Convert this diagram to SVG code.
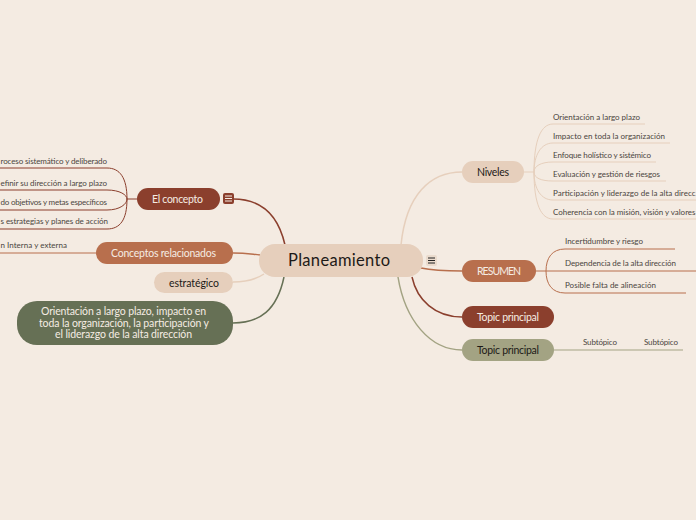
<svg xmlns="http://www.w3.org/2000/svg" width="696" height="520" viewBox="0 0 696 520">
<style>
text{font-family:"Lato","Noto Sans",sans-serif;text-anchor:start}
.b{font-size:10.500px}
.s{font-size:8px;fill:#4a4540}
.l{fill:#f5ece3}
.d{fill:#1d1a17}
.c{fill:none;stroke-width:1.5}
.t{fill:none;stroke-width:1}
.red{stroke:#8b3f2d}.or{stroke:#b86f4d}.sa{stroke:#e6cfbc}.gr{stroke:#667055}.ol{stroke:#a3a383}
.m{stroke-width:1;fill:none}
</style>
<rect width="696" height="520" fill="#f4ebe2"/>
<g id="connectors">
<path class="c red" d="M233 199C260 199 278 214 285 245"/>
<path class="c or" d="M233 253C245 253 250 254 260 255"/>
<path class="c sa" d="M233 282C245 282 255 280 264 274"/>
<path class="c gr" d="M233 323C260 323 277 310 284 277"/>
<path class="c sa" d="M462 172C430 172 406 195 401 245"/>
<path class="c or" d="M421 268C435 271 448 271 462 271"/>
<path class="c red" d="M412 277C417 300 435 317 462 317"/>
<path class="c ol" d="M398 277C405 320 430 350 462 350"/>
<g class="t red">
<path d="M137 199H127"/>
<path d="M0 168H107C120 168 127 178 127 199C127 220 120 229 107 229H0"/>
<path d="M0 190H107C120 190 127 195 127 199C127 204 120 210 107 210H0"/>
</g>
<path class="t or" d="M96 253H0"/>
<g class="t sa">
<path d="M524 172H534"/>
<path d="M645 124H553C541 124 534 140 534 172C534 204 541 219 553 219H696"/>
<path d="M670 143H553C541 143 534 155 534 172C534 189 541 200 553 200H696"/>
<path d="M656 162H553C541 162 534 166 534 172C534 178 541 181 553 181H666"/>
</g>
<g class="t or">
<path d="M536 271H696"/>
<path d="M675 249H565C552 249 546 258 546 271C546 284 552 293 565 293H686"/>
</g>
<path class="t ol" d="M554 350H683"/>
</g>
<g id="central"><rect x="259" y="244" width="164" height="33" rx="16" fill="#e6cfbc"/><text x="288" y="266" font-size="16.500" textLength="102" class="d">Planeamiento</text></g>
<g id="toggle-central"><rect x="426" y="255" width="11" height="11" rx="2" fill="#eadbcd"/><path class="m" stroke="#222" d="M428 258H435M428 260.500H435M428 263H435"/></g>
<g id="el-concepto"><rect x="137" y="188" width="83" height="22" rx="11" fill="#8b3f2d"/><text x="152" y="202.500" textLength="51" class="b l">El concepto</text></g>
<g id="toggle-concepto"><rect x="223" y="193" width="11" height="11" rx="2" fill="#8b3f2d"/><path class="m" stroke="#f5ece3" d="M225 196H232M225 198.500H232M225 201H232"/></g>
<g id="conceptos"><rect x="96" y="242" width="137" height="22" rx="11" fill="#b86f4d"/><text x="111" y="257" textLength="105" class="b l">Conceptos relacionados</text></g>
<g id="estrategico"><rect x="154" y="272" width="79" height="21" rx="10.500" fill="#e6cfbc"/><text x="169" y="286.500" textLength="50" class="b d">estratégico</text></g>
<g id="orientacion"><rect x="17" y="301" width="216" height="44" rx="20" fill="#667055"/><text class="b l" x="41" y="315" textLength="165">Orientación a largo plazo, impacto en</text><text class="b l" x="39" y="326.500" textLength="170">toda la organización, la participación y</text><text class="b l" x="55" y="338" textLength="137">el liderazgo de la alta dirección</text></g>
<g id="niveles"><rect x="462" y="161" width="62" height="22" rx="11" fill="#e6cfbc"/><text x="477" y="175.500" textLength="32" class="b d">Niveles</text></g>
<g id="resumen"><rect x="462" y="260" width="74" height="22" rx="11" fill="#b86f4d"/><text x="477" y="274.500" textLength="44" class="b l">RESUMEN</text></g>
<g id="topic1"><rect x="462" y="306" width="92" height="22" rx="11" fill="#8b3f2d"/><text x="477" y="320.500" textLength="62" class="b l">Topic principal</text></g>
<g id="topic2"><rect x="462" y="339" width="92" height="22" rx="11" fill="#a3a383"/><text x="477" y="353.500" textLength="62" class="b d">Topic principal</text></g>
<g id="concepto-subs">
<text x="0.500" y="164" textLength="106.500" class="s">roceso sistemático y deliberado</text>
<text x="0.500" y="186" textLength="106.500" class="s">efinir su dirección a largo plazo</text>
<text x="0.500" y="205" textLength="106.500" class="s">do objetivos y metas específicos</text>
<text x="0.500" y="224" textLength="107.500" class="s">s estrategias y planes de acción</text>
<text x="0.500" y="248" textLength="66.500" class="s">n Interna y externa</text>
</g>
<g id="niveles-subs">
<text x="553" y="120" textLength="87" class="s">Orientación a largo plazo</text>
<text x="553" y="139" textLength="112" class="s">Impacto en toda la organización</text>
<text x="553" y="158" textLength="98" class="s">Enfoque holístico y sistémico</text>
<text x="553" y="177" textLength="107" class="s">Evaluación y gestión de riesgos</text>
<text x="553" y="196" textLength="142.500" class="s">Participación y liderazgo de la alta direcc</text>
<text x="553" y="215" textLength="142.500" class="s">Coherencia con la misión, visión y valores</text>
</g>
<g id="resumen-subs">
<text x="565" y="244" textLength="78" class="s">Incertidumbre y riesgo</text>
<text x="565" y="266" textLength="111" class="s">Dependencia de la alta dirección</text>
<text x="565" y="288" textLength="91" class="s">Posible falta de alineación</text>
</g>
<g id="topic-subs">
<text x="583" y="345" textLength="34" class="s">Subtópico</text>
<text x="644" y="345" textLength="34" class="s">Subtópico</text>
</g>
</svg>
